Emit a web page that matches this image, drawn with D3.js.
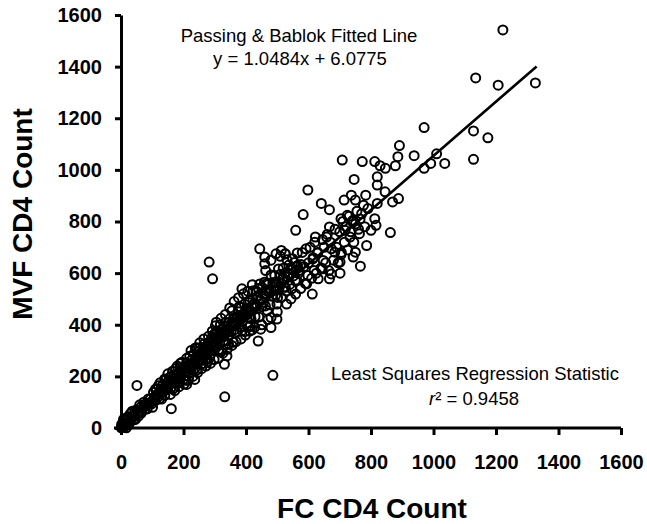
<!DOCTYPE html>
<html lang="en">
<head>
    <meta charset="UTF-8">
    <title>MVF vs FC CD4 Count</title>
    <script type="text/javascript" src="https://cdn.jsdelivr.net/npm/d3@7/dist/d3.min.js"></script>
    <style>
        body { margin: 0; background: #fff; }
        text { font-family: "Liberation Sans", Arial, sans-serif; }
    </style>
</head>
<body>
<script type="text/javascript">
    // FC CD4 count (x) vs MVF CD4 count (y)
    // scattered points, read one by one
    let sparsePoints = [
        [1222, 1542], [1135, 1356], [1207, 1328], [1326, 1337], [970, 1164], [1128, 1151],
        [1174, 1124], [891, 1094], [1128, 1041], [1036, 1025], [1010, 1062], [938, 1055],
        [991, 1025], [970, 1006], [886, 1051], [878, 1016], [708, 1038], [772, 1032],
        [812, 1032], [829, 1016], [846, 1006], [820, 973], [746, 963], [820, 941],
        [845, 915], [598, 922], [737, 902], [783, 902], [714, 883], [750, 883],
        [888, 889], [869, 876], [820, 870], [776, 863], [641, 870], [667, 846],
        [583, 827], [724, 824], [704, 811], [743, 805], [812, 811], [667, 779],
        [816, 785], [800, 766], [862, 757], [559, 766], [717, 766], [763, 753],
        [622, 740], [658, 740], [733, 740], [786, 707], [592, 694], [444, 694],
        [513, 688], [673, 694], [629, 678], [684, 681], [750, 681], [704, 672],
        [496, 675], [526, 675], [460, 662], [743, 662], [614, 655], [647, 649],
        [701, 643], [282, 643], [460, 636], [576, 633], [766, 627], [463, 610],
        [644, 617], [618, 610], [673, 597], [701, 600], [293, 578], [598, 591],
        [667, 578], [631, 578], [563, 571], [464, 558], [493, 565], [594, 558],
        [526, 545], [387, 539], [423, 532], [473, 532], [612, 519], [559, 519],
        [433, 506], [544, 500], [407, 487], [499, 480], [355, 454], [381, 435],
        [480, 428], [499, 422], [480, 389], [447, 383], [414, 396], [439, 337],
        [331, 337], [302, 396], [339, 279], [331, 247], [486, 204], [332, 121],
        [161, 75], [51, 165], [243, 311], [236, 188], [275, 266], [210, 169]
    ];

    // the dense band along the diagonal, estimated
    let densePoints = [
        [2, 14], [5, 2], [8, 33], [11, 15], [14, 31], [17, 1], [20, 42], [23, 31], [27, 23], [30, 56],
        [33, 33], [36, 65], [40, 32], [43, 59], [46, 33], [50, 71], [53, 63], [56, 46], [60, 90], [63, 63],
        [66, 85], [70, 76], [73, 100], [77, 73], [80, 94], [84, 74], [87, 112], [91, 96], [94, 112], [98, 94],
        [1, 1], [3, 6], [6, 9], [10, 4], [18, 20], [25, 12], [35, 44], [45, 48], [55, 60], [65, 58],
        [75, 88], [85, 90], [95, 100],
        [101, 80], [104, 138], [107, 120], [110, 106], [113, 152], [117, 119], [120, 164], [123, 113], [127, 152], [130, 112],
        [133, 165], [137, 153], [140, 126], [143, 187], [147, 148], [150, 178], [153, 162], [157, 197], [160, 155], [163, 184],
        [167, 153], [170, 206], [173, 180], [177, 204], [180, 173], [183, 209], [187, 178], [190, 235], [193, 206], [197, 230],
        [105, 112], [115, 130], [125, 138], [135, 140], [145, 160], [155, 170], [165, 178], [175, 190], [185, 196], [195, 210],
        [112, 125], [132, 146], [152, 168], [172, 188], [192, 212],
        [200, 188], [203, 237], [207, 185], [210, 253], [213, 235], [217, 199], [220, 278], [223, 225], [227, 265], [230, 243],
        [233, 286], [237, 231], [240, 268], [243, 225], [247, 294], [250, 260], [253, 288], [257, 248], [260, 293], [263, 250],
        [267, 326], [270, 287], [273, 315], [277, 257], [280, 331], [283, 307], [287, 288], [290, 348], [293, 303], [297, 362],
        [205, 215], [215, 228], [225, 240], [235, 252], [245, 262], [255, 275], [265, 282], [275, 295], [285, 305], [295, 318],
        [208, 230], [228, 250], [248, 275], [268, 300], [288, 320], [218, 245], [238, 262], [258, 282], [278, 310], [298, 332],
        [300, 348], [304, 319], [308, 375], [312, 303], [316, 351], [320, 295], [324, 384], [328, 339], [332, 376], [336, 323],
        [340, 382], [344, 326], [348, 423], [352, 373], [356, 410], [360, 332], [364, 429], [368, 398], [372, 372], [376, 450],
        [380, 391], [384, 467], [388, 378], [392, 443], [396, 373], [400, 462], [404, 439], [408, 391], [412, 494], [416, 424],
        [302, 330], [310, 340], [318, 362], [326, 355], [334, 365], [342, 372], [350, 390], [358, 395], [366, 405], [374, 412],
        [382, 420], [390, 428], [398, 440], [406, 448], [414, 455], [306, 355], [322, 365], [338, 392], [354, 402], [370, 425],
        [386, 435], [402, 452], [418, 470],
        [426, 481], [429, 432], [432, 530], [435, 471], [438, 512], [441, 430], [444, 558], [447, 494], [450, 470], [453, 543],
        [456, 487], [459, 565], [462, 473], [465, 532], [468, 455], [471, 556], [474, 526], [477, 477], [480, 593], [483, 511],
        [486, 563], [489, 533], [492, 591], [495, 515], [498, 563], [501, 506], [504, 616], [507, 546], [510, 596], [513, 506],
        [516, 576], [519, 619], [522, 546], [525, 600], [528, 531], [531, 652], [534, 585], [537, 631], [540, 556], [543, 615],
        [546, 539], [549, 656], [552, 589], [555, 641], [558, 572], [561, 625], [564, 678], [567, 599],
        [430, 470], [445, 495], [460, 510], [475, 530], [490, 548], [505, 565], [520, 580], [535, 598], [550, 615], [565, 630],
        [420, 380], [450, 400], [470, 420], [500, 450], [530, 480], [480, 650], [510, 665], [525, 675],
        [570, 610], [575, 540], [580, 680], [585, 625], [590, 560], [600, 640], [605, 700], [610, 580], [615, 660], [620, 720],
        [625, 600], [630, 680], [640, 620], [645, 730], [650, 700], [655, 640], [660, 750], [665, 610], [670, 720], [680, 650],
        [685, 770], [690, 700], [695, 640], [700, 760], [705, 680], [710, 800], [715, 720], [720, 780], [725, 690], [730, 820],
        [735, 760], [740, 800], [745, 720], [750, 790], [755, 840], [760, 770], [765, 810], [770, 830], [780, 780], [790, 850],
        // wider edges of the band
        [150, 210], [158, 130], [165, 220], [172, 145], [180, 240], [186, 160], [195, 255], [202, 170], [210, 270], [216, 185],
        [224, 300], [230, 200], [238, 310], [245, 215], [252, 330], [258, 230], [265, 345], [272, 240], [280, 355], [286, 250],
        [292, 375], [298, 265], [305, 410], [312, 270], [320, 425], [326, 290], [334, 440], [340, 305], [348, 465], [355, 320],
        [362, 490], [368, 335], [376, 505], [384, 345], [392, 520], [398, 360], [406, 530], [412, 375], [420, 555], [428, 390],
        [250, 310], [262, 300], [275, 320], [300, 365], [318, 400], [335, 410], [345, 360], [362, 380], [378, 470], [395, 480],
        [410, 430], [422, 500], [440, 540], [455, 520], [190, 250], [175, 230], [160, 200], [140, 190], [125, 175], [110, 150]
    ];

    let xTicks = [0, 200, 400, 600, 800, 1000, 1200, 1400, 1600];
    let yTicks = [0, 200, 400, 600, 800, 1000, 1200, 1400, 1600];

    // Passing & Bablok fit
    let slope = 1.0484;
    let intercept = 6.0775;
    let fitRange = [0, 1330];

    let width = 647;
    let height = 524;

    let svg = d3.select('body')
        .append('svg')
        .attr('width', width)
        .attr('height', height);

    let x = d3.scaleLinear().domain([0, 1600]).range([121, 621]);
    let y = d3.scaleLinear().domain([0, 1600]).range([428, 15]);

    // axes
    let xAxis = svg.append('g')
        .attr('transform', 'translate(0,' + y(0) + ')')
        .call(d3.axisBottom(x).tickValues(xTicks).tickFormat(d3.format('d'))
            .tickSize(7).tickSizeOuter(0).tickPadding(20));
    let yAxis = svg.append('g')
        .attr('transform', 'translate(' + x(0) + ',0)')
        .call(d3.axisLeft(y).tickValues(yTicks).tickFormat(d3.format('d'))
            .tickSize(6).tickSizeOuter(0).tickPadding(13));

    [xAxis, yAxis].forEach(function (g) {
        g.select('.domain').attr('stroke', '#000').attr('stroke-width', 3);
        g.selectAll('.tick line').attr('stroke', '#000').attr('stroke-width', 3);
        g.selectAll('.tick text')
            .attr('fill', '#000')
            .style('font-family', '"Liberation Sans", Arial, sans-serif')
            .style('font-size', '20px')
            .style('font-weight', 'bold');
    });
    // x axis line reaches across the left tick stub
    xAxis.select('.domain').attr('d', 'M' + (x(0) - 7) + ',0H' + x(1600));

    // points
    let allPoints = sparsePoints.concat(densePoints);
    svg.append('g')
        .selectAll('circle')
        .data(allPoints)
        .enter()
        .append('circle')
        .attr('cx', function (d) { return x(d[0]); })
        .attr('cy', function (d) { return y(d[1]); })
        .attr('r', 4.5)
        .attr('fill', 'none')
        .attr('stroke', '#000')
        .attr('stroke-width', 2);

    // fitted line
    svg.append('line')
        .attr('x1', x(fitRange[0]))
        .attr('y1', y(slope * fitRange[0] + intercept))
        .attr('x2', x(fitRange[1]))
        .attr('y2', y(slope * fitRange[1] + intercept))
        .attr('stroke', '#000')
        .attr('stroke-width', 2.6);

    // annotations
    let note = svg.append('g')
        .attr('font-size', '18.5px')
        .attr('text-anchor', 'middle')
        .attr('fill', '#000');
    note.append('text').attr('x', 299).attr('y', 41.5).text('Passing & Bablok Fitted Line');
    note.append('text').attr('x', 300).attr('y', 65).text('y = ' + slope + 'x + ' + intercept);
    note.append('text').attr('x', 475).attr('y', 380).text('Least Squares Regression Statistic');
    let r2 = note.append('text').attr('x', 474).attr('y', 405);
    r2.append('tspan').attr('font-style', 'italic').text('r');
    r2.append('tspan').text('\u00b2 = 0.9458');

    // axis titles
    svg.append('text')
        .attr('x', 372)
        .attr('y', 518)
        .attr('text-anchor', 'middle')
        .attr('font-size', '28px')
        .attr('font-weight', 'bold')
        .text('FC CD4 Count');
    svg.append('text')
        .attr('transform', 'translate(32,214) rotate(-90)')
        .attr('text-anchor', 'middle')
        .attr('font-size', '28px')
        .attr('font-weight', 'bold')
        .text('MVF CD4 Count');
</script>
</body>
</html>
